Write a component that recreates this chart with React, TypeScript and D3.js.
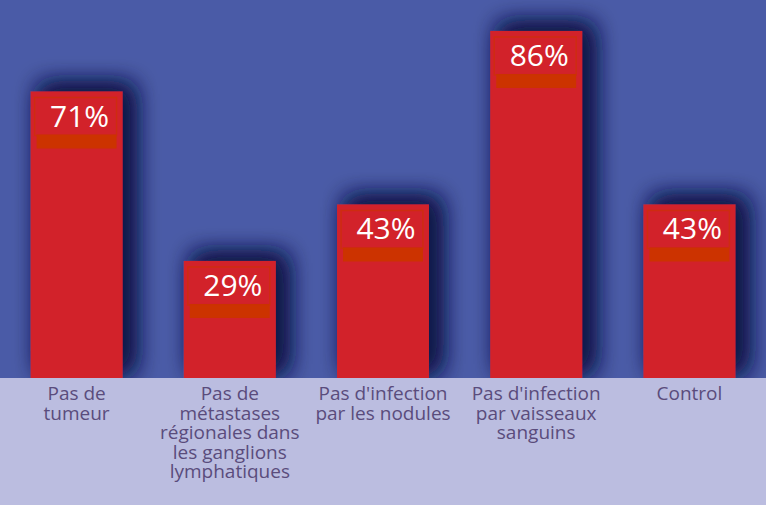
import React from "react";
import * as d3 from "d3";

const categories: string[][] = [
  ["Pas de", "tumeur"],
  ["Pas de", "métastases", "régionales dans", "les ganglions", "lymphatiques"],
  ["Pas d'infection", "par les nodules"],
  ["Pas d'infection", "par vaisseaux", "sanguins"],
  ["Control"],
];
const values: number[] = [71, 29, 43, 86, 43];
const valueLabels: string[] = ["71%", "29%", "43%", "86%", "43%"];

const W = 766;
const H = 505;
const BASE = 378;

export default function App() {
  const x = d3
    .scaleBand<number>()
    .domain(values.map((_, i) => i))
    .range([0, W])
    .paddingInner(0.4)
    .paddingOuter(0.2);
  const y = d3.scaleLinear().domain([0, 100]).range([BASE, -25.5]);
  const bw = x.bandwidth();

  return (
    <svg
      width={W}
      height={H}
      style={{ position: "absolute", left: 0, top: 0, display: "block" }}
      fontFamily="'Open Sans', sans-serif"
    >
      <defs>
        <filter id="sh" x="-60%" y="-60%" width="220%" height="220%">
          <feGaussianBlur in="SourceAlpha" stdDeviation="12" result="b" />
          <feOffset in="b" dx="10" dy="-6" result="o" />
          <feFlood floodColor="#111a48" floodOpacity="1" />
          <feComposite in2="o" operator="in" result="s" />
          <feMerge>
            <feMergeNode in="s" />
            <feMergeNode in="s" />
            <feMergeNode in="SourceGraphic" />
          </feMerge>
        </filter>
      </defs>
      <rect x={0} y={0} width={W} height={H} fill="#4a5ba7" />
      {values.map((v, i) => {
        const x0 = x(i)!;
        const top = y(v);
        return (
          <g key={"b" + i}>
            <rect
              x={x0}
              y={top}
              width={bw}
              height={BASE - top}
              fill="#d2222b"
              filter="url(#sh)"
            />
            <rect
              x={x0 + 6}
              y={top + 43}
              width={bw - 12}
              height={14}
              fill="#cc3300"
            />
            <rect
              x={x0 + 4}
              y={top + 6}
              width={bw - 10}
              height={38}
              fill="none"
              stroke="#cc3300"
              strokeWidth={1.5}
              opacity={0.6}
            />
            <text
              x={x0 + bw / 2 + 3}
              y={top + 35}
              textAnchor="middle"
              fill="#ffffff"
              fontSize={30}
            >
              {valueLabels[i]}
            </text>
          </g>
        );
      })}
      <rect x={0} y={BASE} width={W} height={H - BASE} fill="#bbbde0" />
      {categories.map((lines, i) => (
        <text
          key={"c" + i}
          x={x(i)! + bw / 2}
          y={400}
          textAnchor="middle"
          fill="#5a4c7c"
          fontSize={19}
        >
          {lines.map((l, j) => (
            <tspan key={j} x={x(i)! + bw / 2} dy={j === 0 ? 0 : 19.5}>
              {l}
            </tspan>
          ))}
        </text>
      ))}
    </svg>
  );
}
